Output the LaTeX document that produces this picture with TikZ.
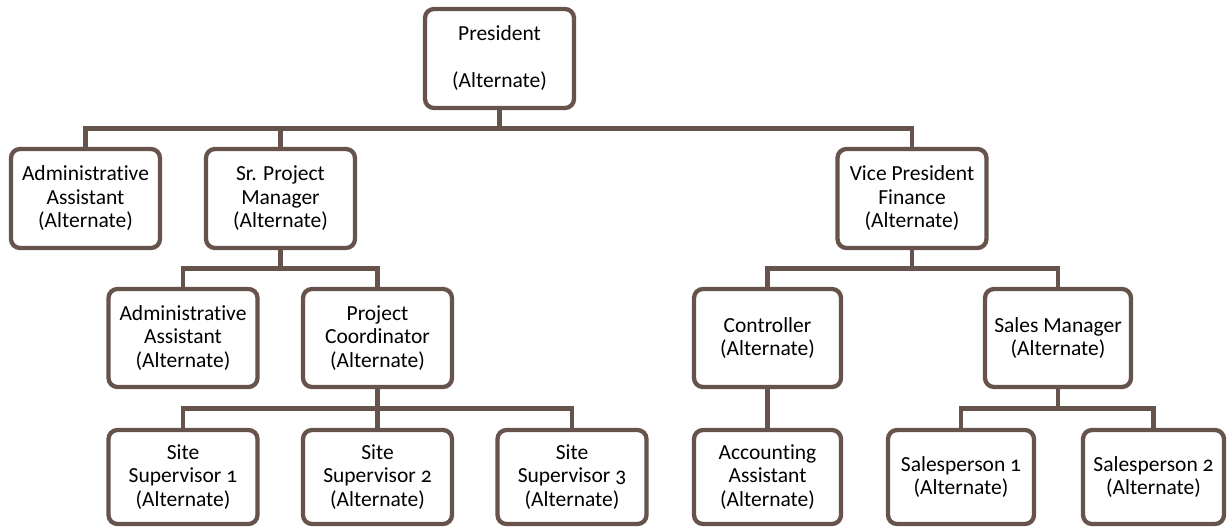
\documentclass[tikz,border=0pt]{standalone}
\usepackage{fontspec}
\setmainfont{Carlito}[Numbers=OldStyle, Ligatures=NoCommon]
\usetikzlibrary{calc}
\definecolor{bark}{RGB}{102,83,75}
\begin{document}
\begin{tikzpicture}[x=1pt,y=-1pt,
  role/.style={draw=bark, line width=4.3pt, rounded corners=9pt, fill=white,
    align=center, inner sep=0pt, minimum width=149pt,
    font=\fontsize{21.5}{23.5}\selectfont},
  tall/.style={minimum height=99pt},
  mid/.style={minimum height=98pt},
  low/.style={minimum height=94pt},
  link/.style={draw=bark, line width=4.3pt,
    to path={(\tikztostart) |- ($(\tikztostart)!0.5!(\tikztotarget)$) -| (\tikztotarget)}}]
\useasboundingbox (0,0) rectangle (1228,527);

% top
\node[role,tall] (pres) at (499.5,58.5) {President\\\mbox{}\\(Alternate)};

% first level
\node[role,tall] (adm1) at (85.5,198.5) {Administrative\\Assistant\\(Alternate)};
\node[role,tall] (spm)  at (280.5,198.5) {Sr. Project\\Manager\\(Alternate)};
\node[role,tall] (vp)   at (912,198.5) {Vice President\\Finance\\(Alternate)};

% second level
\node[role,mid] (adm2) at (183,338) {Administrative\\Assistant\\(Alternate)};
\node[role,mid] (pc)   at (377.5,338) {Project\\Coordinator\\(Alternate)};
\node[role,mid,minimum width=147pt] (ctrl) at (767.5,338) {Controller\\(Alternate)};
\node[role,mid,minimum width=146pt] (sm)   at (1058,338) {Sales Manager\\(Alternate)};

% third level
\node[role,low] (s1) at (183,477) {Site\\Supervisor 1\\(Alternate)};
\node[role,low] (s2) at (377.5,477) {Site\\Supervisor 2\\(Alternate)};
\node[role,low] (s3) at (572,477) {Site\\Supervisor 3\\(Alternate)};
\node[role,low,minimum width=147pt] (acc) at (767.5,477) {Accounting\\Assistant\\(Alternate)};
\node[role,low,minimum width=146pt] (sp1) at (961,477) {Salesperson 1\\(Alternate)};
\node[role,low,minimum width=141pt] (sp2) at (1153.5,477) {Salesperson 2\\(Alternate)};

% reporting lines
\foreach \p/\c in {pres/adm1, pres/spm, pres/vp,
                   spm/adm2, spm/pc, vp/ctrl, vp/sm,
                   pc/s1, pc/s2, pc/s3, ctrl/acc, sm/sp1, sm/sp2}
  \draw[link] (\p.south) to (\c.north);
\end{tikzpicture}
\end{document}
